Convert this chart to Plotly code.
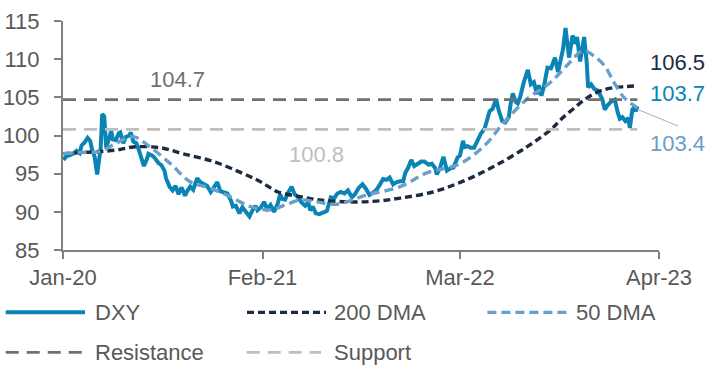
import plotly.graph_objects as go

# ---------------- data ----------------
dxy_dates = [
    "2020-01-02","2020-01-08","2020-01-14","2020-01-21","2020-01-28","2020-02-03","2020-02-07","2020-02-13",
    "2020-02-19","2020-02-24","2020-02-28","2020-03-04","2020-03-09","2020-03-12","2020-03-16","2020-03-19",
    "2020-03-23","2020-03-27","2020-04-01","2020-04-06","2020-04-09","2020-04-15","2020-04-21","2020-04-24",
    "2020-04-30","2020-05-05","2020-05-12","2020-05-15","2020-05-20","2020-05-26","2020-06-01","2020-06-05",
    "2020-06-10","2020-06-16","2020-06-19","2020-06-26","2020-07-01","2020-07-09","2020-07-15","2020-07-21",
    "2020-07-24","2020-07-31","2020-08-06","2020-08-12","2020-08-18","2020-08-24","2020-08-31","2020-09-04",
    "2020-09-10","2020-09-16","2020-09-24","2020-09-30","2020-10-07","2020-10-14","2020-10-21","2020-10-28",
    "2020-11-03","2020-11-09","2020-11-16","2020-11-23","2020-11-30","2020-12-04","2020-12-10","2020-12-17",
    "2020-12-23","2020-12-31","2021-01-06","2021-01-12","2021-01-18","2021-01-22","2021-01-29","2021-02-04",
    "2021-02-10","2021-02-17","2021-02-24","2021-03-03","2021-03-08","2021-03-12","2021-03-18","2021-03-24",
    "2021-03-31","2021-04-06","2021-04-13","2021-04-20","2021-04-27","2021-05-03","2021-05-07","2021-05-12",
    "2021-05-18","2021-05-25","2021-06-01","2021-06-09","2021-06-17","2021-06-24","2021-06-30","2021-07-07",
    "2021-07-14","2021-07-21","2021-07-29","2021-08-04","2021-08-11","2021-08-19","2021-08-26","2021-09-02",
    "2021-09-09","2021-09-16","2021-09-22","2021-09-29","2021-10-06","2021-10-12","2021-10-19","2021-10-26",
    "2021-11-02","2021-11-08","2021-11-12","2021-11-18","2021-11-24","2021-11-30","2021-12-07","2021-12-14",
    "2021-12-20","2021-12-28","2022-01-04","2022-01-11","2022-01-14","2022-01-20","2022-01-27","2022-02-03",
    "2022-02-10","2022-02-16","2022-02-24","2022-03-01","2022-03-07","2022-03-10","2022-03-16","2022-03-22",
    "2022-03-29","2022-04-05","2022-04-12","2022-04-19","2022-04-26","2022-04-29","2022-05-05","2022-05-12",
    "2022-05-17","2022-05-24","2022-05-30","2022-06-06","2022-06-10","2022-06-14","2022-06-20","2022-06-24",
    "2022-06-29","2022-07-06","2022-07-14","2022-07-20","2022-07-26","2022-08-01","2022-08-05","2022-08-10",
    "2022-08-15","2022-08-22","2022-08-29","2022-09-06","2022-09-12","2022-09-16","2022-09-22","2022-09-27",
    "2022-09-30","2022-10-04","2022-10-11","2022-10-17","2022-10-20","2022-10-26","2022-11-03","2022-11-08",
    "2022-11-11","2022-11-17","2022-11-23","2022-11-30","2022-12-05","2022-12-09","2022-12-14","2022-12-20",
    "2022-12-28","2023-01-03","2023-01-09","2023-01-13","2023-01-18","2023-01-24","2023-01-30","2023-02-02",
    "2023-02-07","2023-02-10","2023-02-14","2023-02-17",
]
dxy_values = [
    96.8, 97.3, 97.4, 97.6, 98.0, 97.7, 98.7, 99.1,
    99.7, 99.3, 98.1, 97.2, 94.9, 97.0, 98.4, 102.8,
    102.5, 98.4, 99.6, 100.6, 99.5, 99.4, 100.3, 100.4,
    99.0, 99.8, 100.0, 100.4, 99.2, 99.0, 97.9, 96.9,
    96.0, 96.9, 97.6, 97.4, 97.1, 96.4, 96.1, 95.4,
    94.4, 93.3, 92.8, 93.4, 92.3, 93.2, 92.1, 92.7,
    93.3, 92.9, 94.4, 93.9, 93.6, 93.4, 92.6, 93.4,
    93.9, 92.7, 92.6, 92.4, 91.5, 90.7, 90.8, 89.8,
    90.6, 89.9, 89.4, 90.2, 90.8, 90.2, 90.6, 91.3,
    90.4, 90.9, 90.0, 91.0, 92.3, 91.7, 91.6, 92.5,
    93.3, 92.3, 91.9, 91.2, 90.8, 91.2, 90.2, 90.7,
    89.8, 89.7, 89.9, 90.1, 91.9, 91.8, 92.4, 92.6,
    92.4, 92.8, 91.9, 92.3, 93.1, 93.6, 93.0, 92.2,
    92.5, 92.9, 93.5, 94.3, 94.2, 94.5, 93.6, 93.9,
    94.0, 94.0, 95.1, 95.8, 96.8, 96.0, 96.3, 96.6,
    96.6, 96.2, 96.3, 95.7, 94.9, 95.7, 97.2, 95.4,
    95.7, 95.8, 97.1, 97.4, 99.3, 98.5, 98.6, 98.4,
    98.4, 99.5, 100.3, 100.9, 102.3, 103.2, 103.5, 104.8,
    103.3, 101.9, 101.7, 102.4, 104.2, 105.5, 104.4, 104.2,
    105.1, 107.0, 108.6, 106.7, 107.0, 105.4, 106.6, 105.2,
    106.4, 108.9, 108.8, 110.2, 108.3, 109.8, 111.3, 114.1,
    112.1, 110.2, 113.1, 112.0, 112.9, 109.7, 112.9, 109.7,
    106.3, 106.7, 106.1, 105.9, 105.3, 104.8, 103.4, 104.0,
    104.5, 104.7, 103.0, 102.2, 102.4, 101.9, 102.3, 101.0,
    103.4, 103.6, 103.2, 103.8,
]

dma200_dates = [
    "2020-01-02","2020-02-15","2020-03-15","2020-04-17","2020-05-20","2020-07-12","2020-08-27","2020-10-26",
    "2020-12-18","2021-01-28","2021-03-04","2021-04-17","2021-05-26","2021-07-25","2021-09-15","2021-11-02",
    "2022-01-06","2022-03-05","2022-05-06","2022-07-12","2022-08-31","2022-09-16","2022-10-09","2022-11-03",
    "2022-11-30","2022-12-26","2023-01-22","2023-02-17",
]
dma200_values = [
    97.6, 97.8, 97.9, 98.1, 98.5, 98.4, 97.6, 96.6,
    95.2, 93.95, 92.6, 92.0, 91.55, 91.3, 91.4, 91.8,
    92.6, 93.95, 95.9, 98.5, 100.9, 102.0, 103.3, 104.65,
    105.7, 106.2, 106.4, 106.5,
]

dma50_dates = [
    "2020-01-02","2020-02-15","2020-03-15","2020-04-16","2020-05-20","2020-06-22","2020-08-01","2020-09-10",
    "2020-10-20","2020-11-28","2021-01-07","2021-02-16","2021-03-18","2021-04-17","2021-05-20","2021-06-29",
    "2021-08-27","2021-11-02","2021-12-25","2022-03-01","2022-04-20","2022-05-26","2022-07-13","2022-08-27",
    "2022-10-06","2022-10-31","2022-11-25","2022-12-15","2023-01-01","2023-01-21","2023-02-17",
]
dma50_values = [
    97.6, 97.8, 97.9, 99.0, 99.85, 98.5, 96.35, 93.95,
    93.1, 92.0, 90.7, 90.25, 90.9, 91.55, 91.3, 91.0,
    92.2, 93.3, 95.1, 96.3, 98.75, 101.6, 104.8, 106.9,
    109.6, 111.1, 110.3, 109.0, 107.0, 105.0, 103.6,
]

resistance_level = 104.7
support_level = 100.8
level_dates = ["2020-01-01", "2023-02-17"]

tick_dates = ["2020-01-01", "2021-02-01", "2022-03-01", "2023-04-01"]
tick_labels = ["Jan-20", "Feb-21", "Mar-22", "Apr-23"]
y_ticks = [85, 90, 95, 100, 105, 110, 115]

end_labels = ["106.5", "103.7", "103.4"]

# ---------------- styling ----------------
C_DXY = "#0A84B5"
C_200 = "#1C2B3F"
C_50 = "#6A9ECB"
C_RES = "#707070"
C_SUP = "#BEBEBE"
C_AXIS = "#808080"
C_TEXT = "#595959"
FONT = "Liberation Sans, Arial, sans-serif"

W, H = 714, 380
L, R, T, B = 63, 55, 21, 130
PW, PH = W - L - R, H - T - B


def px(xp):
    return (xp - L) / PW


def py(yp):
    return (H - B - yp) / PH


fig = go.Figure()
fig.add_trace(go.Scatter(x=dxy_dates, y=dxy_values, mode="lines", name="DXY",
                         line=dict(color=C_DXY, width=4)))
fig.add_trace(go.Scatter(x=dma200_dates, y=dma200_values, mode="lines", name="200 DMA",
                         line=dict(color=C_200, width=3.4, dash="7px,4px", shape="spline", smoothing=1.0)))
fig.add_trace(go.Scatter(x=dma50_dates, y=dma50_values, mode="lines", name="50 DMA",
                         line=dict(color=C_50, width=3.4, dash="9px,5px", shape="spline", smoothing=1.0)))
fig.add_trace(go.Scatter(x=level_dates, y=[resistance_level] * 2, mode="lines", name="Resistance",
                         line=dict(color=C_RES, width=2.6, dash="13px,8px")))
fig.add_trace(go.Scatter(x=level_dates, y=[support_level] * 2, mode="lines", name="Support",
                         line=dict(color=C_SUP, width=2.6, dash="13px,8px")))

shapes = []
annotations = []

# leader line from the 50 DMA end point to its label
shapes.append(dict(type="line", xref="paper", yref="paper", x0=px(639), y0=py(110),
                   x1=px(678), y1=py(126), line=dict(color="#B0B0B0", width=1)))

# end labels
for txt, yp, col in [(end_labels[0], 62.5, C_200), (end_labels[1], 94, C_DXY), (end_labels[2], 143.5, C_50)]:
    annotations.append(dict(xref="paper", yref="paper", x=px(648), y=py(yp), text=txt, showarrow=False,
                            xanchor="left", yanchor="middle", font=dict(family=FONT, size=22, color=col)))

annotations.append(dict(xref="paper", yref="paper", x=px(177.5), y=py(79.5), text=f"{resistance_level}",
                        showarrow=False, xanchor="center", yanchor="middle",
                        font=dict(family=FONT, size=22, color=C_RES)))
annotations.append(dict(xref="paper", yref="paper", x=px(316.5), y=py(154.5), text=f"{support_level}",
                        showarrow=False, xanchor="center", yanchor="middle",
                        font=dict(family=FONT, size=22, color=C_SUP)))

# custom legend
legend_items = [
    ("DXY", C_DXY, 4, "solid", 5.7, 85, 92.7, 312.3),
    ("200 DMA", C_200, 3.2, "7px,4px", 247, 326, 332, 312.3),
    ("50 DMA", C_50, 3.2, "9px,5px", 487.4, 567, 573.5, 312.3),
    ("Resistance", C_RES, 2.8, "13px,8px", 5.7, 82, 92.7, 352.3),
    ("Support", C_SUP, 2.8, "13px,8px", 246.7, 321, 331.7, 352.3),
]
for name, col, w, dash, x0, x1, xt, yl in legend_items:
    shapes.append(dict(type="line", xref="paper", yref="paper", x0=px(x0), x1=px(x1), y0=py(yl), y1=py(yl),
                       line=dict(color=col, width=w, dash=dash)))
    annotations.append(dict(xref="paper", yref="paper", x=px(xt), y=py(yl), text=name, showarrow=False,
                            xanchor="left", yanchor="middle", font=dict(family=FONT, size=22, color=C_TEXT)))

fig.update_layout(
    width=W, height=H,
    margin=dict(l=L, r=R, t=T, b=B, pad=0),
    paper_bgcolor="white", plot_bgcolor="white",
    showlegend=False,
    shapes=shapes, annotations=annotations,
    font=dict(family=FONT, color=C_TEXT),
    xaxis=dict(type="date", range=["2020-01-01", "2023-04-01"], tickvals=tick_dates, ticktext=tick_labels,
               automargin=False,
               showgrid=False, zeroline=False, showline=True, linecolor=C_AXIS, linewidth=2,
               ticks="outside", ticklen=7, tickwidth=2, tickcolor=C_AXIS,
               tickfont=dict(family=FONT, size=22, color=C_TEXT)),
    yaxis=dict(range=[85, 115], tickvals=y_ticks, showgrid=False, zeroline=False, showline=True,
               automargin=False,
               linecolor=C_AXIS, linewidth=2, ticks="outside", ticklen=7, tickwidth=2, tickcolor=C_AXIS,
               ticklabelstandoff=10, tickfont=dict(family=FONT, size=22, color=C_TEXT)),
)

fig.write_html("out.html", config={"displayModeBar": False},
               post_script="document.body.style.margin='0';document.body.style.overflow='hidden';")
